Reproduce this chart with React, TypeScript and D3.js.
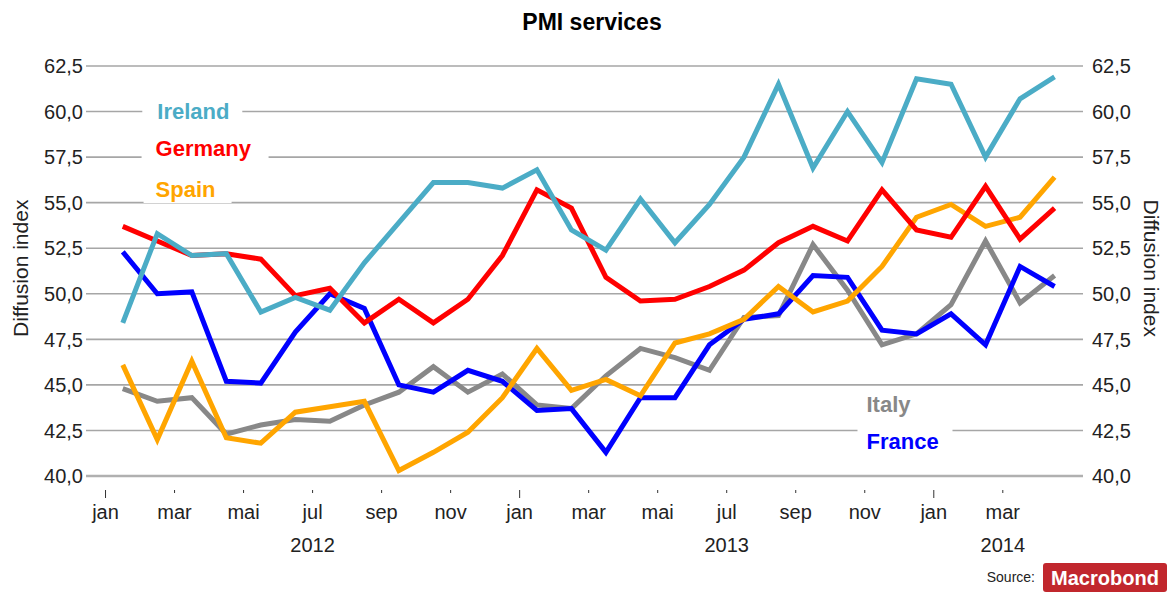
import React, { useEffect, useRef } from 'react';
import * as d3 from 'd3';

// monthly, jan 2012 - apr 2014
const ireland = [48.4, 53.3, 52.1, 52.2, 49.0, 49.8, 49.1, 51.7, 53.9, 56.1, 56.1, 55.8, 56.8, 53.5, 52.4, 55.2, 52.8, 54.9, 57.5, 61.5, 56.9, 60.0, 57.2, 61.8, 61.5, 57.5, 60.7, 61.9];
const germany = [53.7, 52.9, 52.1, 52.2, 51.9, 49.9, 50.3, 48.4, 49.7, 48.4, 49.7, 52.1, 55.7, 54.7, 50.9, 49.6, 49.7, 50.4, 51.3, 52.8, 53.7, 52.9, 55.7, 53.5, 53.1, 55.9, 53.0, 54.7];
const spain = [46.1, 42.0, 46.3, 42.1, 41.8, 43.5, 43.8, 44.1, 40.3, 41.3, 42.4, 44.3, 47.0, 44.7, 45.3, 44.4, 47.3, 47.8, 48.6, 50.4, 49.0, 49.6, 51.5, 54.2, 54.9, 53.7, 54.2, 56.4];
const italy = [44.8, 44.1, 44.3, 42.3, 42.8, 43.1, 43.0, 43.9, 44.6, 46.0, 44.6, 45.6, 43.9, 43.7, 45.5, 47.0, 46.5, 45.8, 48.7, 48.8, 52.7, 50.2, 47.2, 47.8, 49.4, 52.9, 49.5, 51.0];
const france = [52.3, 50.0, 50.1, 45.2, 45.1, 47.9, 50.0, 49.2, 45.0, 44.6, 45.8, 45.2, 43.6, 43.7, 41.3, 44.3, 44.3, 47.2, 48.6, 48.9, 51.0, 50.9, 48.0, 47.8, 48.9, 47.2, 51.5, 50.4];

const monthTicks = [0, 2, 4, 6, 8, 10, 12, 14, 16, 18, 20, 22, 24, 26];
const monthLabels = ['jan', 'mar', 'mai', 'jul', 'sep', 'nov', 'jan', 'mar', 'mai', 'jul', 'sep', 'nov', 'jan', 'mar'];
const yearTicks = [6, 18, 26];
const yearLabels = ['2012', '2013', '2014'];
const yTicks = [40, 42.5, 45, 47.5, 50, 52.5, 55, 57.5, 60, 62.5];

const series = [
  { name: 'Italy', values: italy, color: '#888888' },
  { name: 'France', values: france, color: '#0000ff' },
  { name: 'Spain', values: spain, color: '#ffa500' },
  { name: 'Germany', values: germany, color: '#ff0000' },
  { name: 'Ireland', values: ireland, color: '#4bacc6' },
];

// series name labels sitting in the plot (month position, value position)
const labels = [
  { name: 'Ireland', color: '#4bacc6', m: 1.5, v: 60.0, w: 100, o: 15 },
  { name: 'Germany', color: '#ff0000', m: 1.45, v: 58.0, w: 127, o: 14 },
  { name: 'Spain', color: '#ffa500', m: 1.45, v: 55.75, w: 88, o: 12 },
  { name: 'Italy', color: '#888888', m: 22.05, v: 43.95, w: 67, o: 10 },
  { name: 'France', color: '#0000ff', m: 22.05, v: 41.9, w: 95, o: 9 },
];

const font = '"Liberation Sans", Arial, sans-serif';

const App = () => {
  const ref = useRef<SVGSVGElement>(null);

  useEffect(() => {
    const svg = d3.select(ref.current);
    svg.selectAll('*').remove();

    const x = d3.scaleLinear().domain([-0.45, 28.15]).range([90, 1077]);
    const y = d3.scaleLinear().domain([40, 62.5]).range([476, 66]);

    svg.append('rect').attr('width', 1171).attr('height', 594).attr('fill', '#fff');

    // title
    svg.append('text')
      .attr('x', 592).attr('y', 30)
      .attr('text-anchor', 'middle')
      .style('font', `bold 23px ${font}`)
      .text('PMI services');

    // gridlines
    svg.append('g')
      .selectAll('line')
      .data(yTicks)
      .enter()
      .append('line')
      .attr('x1', 86).attr('x2', 1083)
      .attr('y1', (d) => y(d)).attr('y2', (d) => y(d))
      .attr('stroke', (d) => (d === 40 ? '#b0b0b0' : '#a6a6a6'))
      .attr('stroke-width', (d) => (d === 40 ? 2.5 : 1.6));

    const fmt = (d: number) => d3.format('.1f')(d).replace('.', ',');

    // left / right tick labels
    svg.append('g')
      .selectAll('text')
      .data(yTicks)
      .enter()
      .append('text')
      .attr('x', 83).attr('y', (d) => y(d))
      .attr('dy', '0.36em')
      .attr('text-anchor', 'end')
      .style('font', `20px ${font}`)
      .attr('fill', '#222')
      .text(fmt);
    svg.append('g')
      .selectAll('text')
      .data(yTicks)
      .enter()
      .append('text')
      .attr('x', 1092).attr('y', (d) => y(d))
      .attr('dy', '0.36em')
      .style('font', `20px ${font}`)
      .attr('fill', '#222')
      .text(fmt);

    // axis titles
    svg.append('text')
      .attr('transform', `translate(28, ${y(51.4)}) rotate(-90)`)
      .attr('text-anchor', 'middle')
      .style('font', `21px ${font}`)
      .attr('fill', '#222')
      .text('Diffusion index');
    svg.append('text')
      .attr('transform', `translate(1144, ${y(51.4)}) rotate(90)`)
      .attr('text-anchor', 'middle')
      .style('font', `21px ${font}`)
      .attr('fill', '#222')
      .text('Diffusion index');

    // x ticks and labels
    const xg = svg.append('g');
    xg.selectAll('line')
      .data(monthTicks)
      .enter()
      .append('line')
      .attr('x1', (d) => x(d)).attr('x2', (d) => x(d))
      .attr('y1', 490).attr('y2', (d) => (d % 12 === 0 ? 498 : 493))
      .attr('stroke', '#333').attr('stroke-width', 1);
    xg.selectAll('text.m')
      .data(monthTicks)
      .enter()
      .append('text')
      .attr('class', 'm')
      .attr('x', (d) => x(d)).attr('y', 519)
      .attr('text-anchor', 'middle')
      .style('font', `20px ${font}`)
      .attr('fill', '#222')
      .text((_, i) => monthLabels[i]);
    xg.selectAll('text.y')
      .data(yearTicks)
      .enter()
      .append('text')
      .attr('class', 'y')
      .attr('x', (d) => x(d)).attr('y', 552)
      .attr('text-anchor', 'middle')
      .style('font', `20px ${font}`)
      .attr('fill', '#222')
      .text((_, i) => yearLabels[i]);

    // label boxes break the gridlines
    const lg = svg.append('g');
    lg.selectAll('rect')
      .data(labels)
      .enter()
      .append('rect')
      .attr('x', (d) => x(d.m) - d.o).attr('y', (d) => y(d.v) - 14)
      .attr('width', (d) => d.w).attr('height', 28)
      .attr('fill', '#fff');
    lg.selectAll('text')
      .data(labels)
      .enter()
      .append('text')
      .attr('x', (d) => x(d.m)).attr('y', (d) => y(d.v))
      .attr('dy', '0.36em')
      .attr('fill', (d) => d.color)
      .style('font', `bold 22px ${font}`)
      .text((d) => d.name);

    // series lines
    const line = d3.line<number>()
      .x((_, i) => x(i + 0.5))
      .y((d) => y(d));
    svg.append('g')
      .selectAll('path')
      .data(series)
      .enter()
      .append('path')
      .attr('d', (d) => line(d.values))
      .attr('fill', 'none')
      .attr('stroke', (d) => d.color)
      .attr('stroke-width', 5)
      .attr('stroke-linejoin', 'miter');

    // source
    svg.append('text')
      .attr('x', 1035).attr('y', 582)
      .attr('text-anchor', 'end')
      .style('font', `14px ${font}`)
      .attr('fill', '#222')
      .text('Source:');
    svg.append('rect')
      .attr('x', 1043).attr('y', 563)
      .attr('width', 124).attr('height', 29)
      .attr('rx', 3)
      .attr('fill', '#c1272d');
    svg.append('text')
      .attr('x', 1105).attr('y', 585)
      .attr('text-anchor', 'middle')
      .attr('textLength', 108)
      .attr('lengthAdjust', 'spacingAndGlyphs')
      .style('font', `bold 21px ${font}`)
      .attr('fill', '#fff')
      .text('Macrobond');
  }, []);

  return (
    <svg ref={ref} width={1171} height={594} style={{ position: 'absolute', left: 0, top: 0 }} />
  );
};

export default App;
